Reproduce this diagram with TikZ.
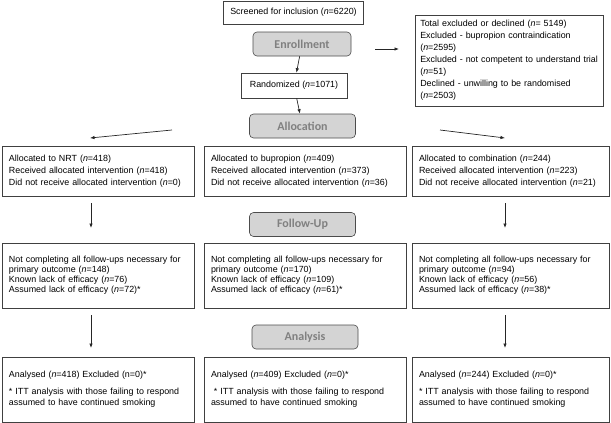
\documentclass[tikz,border=0pt]{standalone}
\usepackage{fontspec}
\setmainfont{Liberation Sans}
\newfontfamily\stagefont{Carlito}
\usetikzlibrary{arrows.meta}

\tikzset{
  panel/.style={draw=black!75, line width=0.6pt, align=left, inner xsep=7pt,
    font=\fontsize{8.9}{12}\selectfont},
  stage/.style={draw=black!70, line width=0.6pt, fill=black!17, rounded corners=4pt,
    text=black!50, font=\stagefont\bfseries\fontsize{12}{14}\selectfont,
    minimum width=106pt, minimum height=24pt},
  flow/.style={-{Latex[length=4.5pt,width=3.5pt]}, line width=0.7pt, black!85}
}

\begin{document}
\begin{tikzpicture}[x=1pt, y=-1pt]
  \useasboundingbox (0,0) rectangle (611,423);

  % enrolment and randomisation
  \node[panel, align=center, minimum width=137pt, minimum height=23pt] (screen) at (293.5,12.5)
    {Screened for inclusion (\textit{n}=6220)};
  \node[stage, minimum width=98pt] (enroll) at (302,44) {Enrollment};
  \node[panel, align=center, minimum width=106pt, minimum height=25pt] (rand) at (294,85.5)
    {Randomized (\textit{n}=1071)};
  \node[stage] (alloc) at (302.5,126) {Allocation};
  \node[panel, anchor=west, text width=178pt, inner xsep=5pt, minimum height=91pt] (excl) at (415,60.5)
    {Total excluded or declined (\textit{n}= 5149)\\
     Excluded - bupropion contraindication\\ (\textit{n}=2595)\\
     Excluded - not competent to understand trial\\ (\textit{n}=51)\\
     Declined - unwilling to be randomised\\ (\textit{n}=2503)};

  % allocation
  \node[panel, text width=178pt, minimum height=50pt] (nrt) at (98,171)
    {Allocated to NRT (\textit{n}=418)\\
     Received allocated intervention (\textit{n}=418)\\
     Did not receive allocated intervention (\textit{n}=0)};
  \node[panel, text width=188pt, minimum height=50pt] (bup) at (305,171)
    {Allocated to bupropion (\textit{n}=409)\\
     Received allocated intervention (\textit{n}=373)\\
     Did not receive allocated intervention (\textit{n}=36)};
  \node[panel, text width=183pt, minimum height=50pt] (comb) at (510.5,171)
    {Allocated to combination (\textit{n}=244)\\
     Received allocated intervention (\textit{n}=223)\\
     Did not receive allocated intervention (\textit{n}=21)};

  % follow-up
  \node[stage] (follow) at (302.5,224.5) {Follow-Up};
  \node[panel, text width=178pt, minimum height=65pt, font=\fontsize{8.9}{10}\selectfont] (nrtfu) at (98,275.5)
    {Not completing all follow-ups necessary for\\
     primary outcome (\textit{n}=148)\\
     Known lack of efficacy (\textit{n}=76)\\
     Assumed lack of efficacy (\textit{n}=72)*};
  \node[panel, text width=188pt, minimum height=65pt, font=\fontsize{8.9}{10}\selectfont] (bupfu) at (305,275.5)
    {Not completing all follow-ups necessary for\\
     primary outcome (\textit{n}=170)\\
     Known lack of efficacy (\textit{n}=109)\\
     Assumed lack of efficacy (\textit{n}=61)*};
  \node[panel, text width=183pt, minimum height=65pt, font=\fontsize{8.9}{10}\selectfont] (combfu) at (510.5,275.5)
    {Not completing all follow-ups necessary for\\
     primary outcome (\textit{n}=94)\\
     Known lack of efficacy (\textit{n}=56)\\
     Assumed lack of efficacy (\textit{n}=38)*};

  % analysis
  \node[stage] (analysis) at (305,337) {Analysis};
  \node[panel, text width=178pt, minimum height=65pt, font=\fontsize{8.9}{11}\selectfont] (nrtan) at (98,389.5)
    {Analysed (\textit{n}=418) Excluded (n=0)*\\[6pt]
     * ITT analysis with those failing to respond\\
     assumed to have continued smoking};
  \node[panel, text width=188pt, minimum height=65pt, font=\fontsize{8.9}{11}\selectfont] (bupan) at (305,389.5)
    {Analysed (\textit{n}=409) Excluded (\textit{n}=0)*\\[6pt]
     \ * ITT analysis with those failing to respond\\
     assumed to have continued smoking};
  \node[panel, text width=183pt, minimum height=65pt, font=\fontsize{8.9}{11}\selectfont] (comban) at (510.5,389.5)
    {Analysed (\textit{n}=244) Excluded (\textit{n}=0)*\\[6pt]
     * ITT analysis with those failing to respond\\
     assumed to have continued smoking};

  % loose arrow ends
  \coordinate (exclfrom) at (375,49);
  \coordinate (exclto) at (399,49);
  \coordinate (nrtfrom) at (172,130);
  \coordinate (nrtto) at (90,138);
  \coordinate (combfrom) at (440,130);
  \coordinate (combto) at (505,138);
  \coordinate (nrtdown) at (91,203);
  \coordinate (nrtdownto) at (91,228);
  \coordinate (combdown) at (505,203);
  \coordinate (combdownto) at (505,228);
  \coordinate (nrtlast) at (91,315);
  \coordinate (nrtlastto) at (91,348);
  \coordinate (comblast) at (505,315);
  \coordinate (comblastto) at (505,348);

  \draw[flow] (enroll) -- (rand);
  \draw[flow] (rand) -- (alloc);
  \draw[flow] (exclfrom) -- (exclto);
  \draw[flow] (nrtfrom) -- (nrtto);
  \draw[flow] (combfrom) -- (combto);
  \draw[flow] (nrtdown) -- (nrtdownto);
  \draw[flow] (combdown) -- (combdownto);
  \draw[flow] (nrtlast) -- (nrtlastto);
  \draw[flow] (comblast) -- (comblastto);
\end{tikzpicture}
\end{document}
